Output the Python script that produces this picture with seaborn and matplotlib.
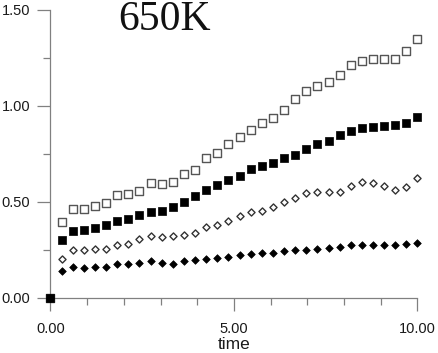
import matplotlib
matplotlib.use("Agg")
import matplotlib.pyplot as plt
import seaborn as sns
from matplotlib.ticker import MultipleLocator, FormatStrFormatter

time = [0.00, 0.30, 0.61, 0.91, 1.21, 1.52, 1.82, 2.12, 2.42, 2.73, 3.03, 3.33,
        3.64, 3.94, 4.24, 4.55, 4.85, 5.15, 5.45, 5.76, 6.06, 6.36, 6.67, 6.97,
        7.27, 7.58, 7.88, 8.18, 8.48, 8.79, 9.09, 9.39, 9.70, 10.00]

open_sq = [0, 0.392, 0.460, 0.460, 0.475, 0.493, 0.535, 0.538, 0.556, 0.595, 0.589, 0.604,
           0.641, 0.665, 0.724, 0.753, 0.798, 0.834, 0.873, 0.908, 0.934, 0.977, 1.033, 1.078,
           1.101, 1.122, 1.161, 1.212, 1.231, 1.243, 1.240, 1.240, 1.285, 1.345]
filled_sq = [0, 0.300, 0.345, 0.349, 0.363, 0.379, 0.399, 0.408, 0.429, 0.446, 0.453, 0.469,
             0.497, 0.531, 0.561, 0.585, 0.613, 0.635, 0.667, 0.686, 0.698, 0.726, 0.743, 0.776,
             0.802, 0.817, 0.844, 0.868, 0.882, 0.887, 0.892, 0.899, 0.911, 0.939]
open_dia = [0, 0.199, 0.246, 0.250, 0.252, 0.255, 0.272, 0.281, 0.304, 0.318, 0.313, 0.318,
            0.325, 0.335, 0.365, 0.380, 0.401, 0.422, 0.443, 0.451, 0.470, 0.500, 0.519, 0.543,
            0.550, 0.550, 0.549, 0.583, 0.601, 0.597, 0.580, 0.561, 0.573, 0.620]
filled_dia = [0, 0.137, 0.158, 0.156, 0.160, 0.160, 0.172, 0.172, 0.179, 0.188, 0.182, 0.177,
              0.188, 0.196, 0.201, 0.208, 0.212, 0.220, 0.229, 0.234, 0.233, 0.240, 0.245, 0.250,
              0.252, 0.256, 0.264, 0.271, 0.276, 0.271, 0.271, 0.271, 0.278, 0.286]

sns.set_style("ticks")
plt.rcParams['font.family'] = ['Liberation Sans', 'DejaVu Sans']

fig = plt.figure(figsize=(4.39, 3.53), dpi=100)
ax = fig.add_axes([50.5 / 439, 55.5 / 353, 367 / 439, 288 / 353])

# open symbols first, filled square last so it sits on the origin
sns.scatterplot(x=time, y=open_sq, marker='s', s=28, color='white',
                edgecolor='#555555', linewidth=1.0, ax=ax, clip_on=False, zorder=3)
sns.scatterplot(x=time, y=open_dia, marker='D', s=13, color='white',
                edgecolor='#333333', linewidth=1.0, ax=ax, clip_on=False, zorder=3)
sns.scatterplot(x=time, y=filled_dia, marker='D', s=15, color='black',
                edgecolor='black', linewidth=0.5, ax=ax, clip_on=False, zorder=3)
sns.scatterplot(x=time, y=filled_sq, marker='s', s=28, color='black',
                edgecolor='black', linewidth=0.5, ax=ax, clip_on=False, zorder=4)

ax.set_xlim(0, 10)
ax.set_ylim(0, 1.5)
sns.despine(ax=ax)
for side in ['left', 'bottom']:
    ax.spines[side].set_color('#808080')
    ax.spines[side].set_linewidth(0.9)

ax.xaxis.set_major_locator(MultipleLocator(5))
ax.xaxis.set_minor_locator(MultipleLocator(1))
ax.yaxis.set_major_locator(MultipleLocator(0.5))
ax.yaxis.set_minor_locator(MultipleLocator(0.25))
ax.xaxis.set_major_formatter(FormatStrFormatter('%.2f'))
ax.yaxis.set_major_formatter(FormatStrFormatter('%.2f'))

ax.tick_params(which='both', direction='out', color='#808080', width=0.9,
               bottom=True, left=True)
ax.tick_params(which='major', length=9.4, labelsize=10.5, labelcolor='#1a1a1a')
ax.tick_params(which='minor', length=5)
ax.tick_params(axis='x', which='major', pad=8)
ax.tick_params(axis='y', which='major', pad=5)

ax.set_xlabel('time', fontsize=12.5, labelpad=1, color='#1a1a1a')
ax.set_ylabel('')

ax.text(0.311, 0.9635, '650K', transform=ax.transAxes, ha='center', va='center',
        fontsize=30, family='Liberation Serif', color='#111111')

fig.savefig('out.png', dpi=100)
